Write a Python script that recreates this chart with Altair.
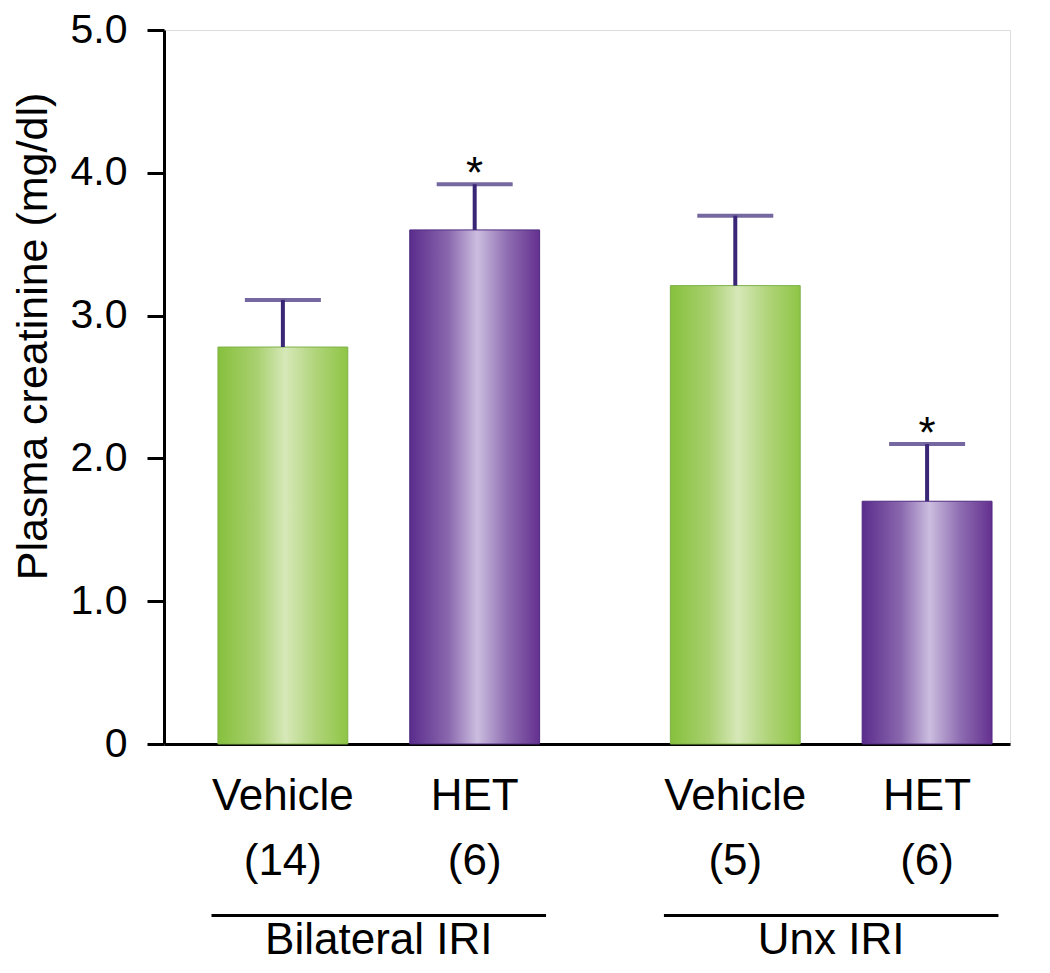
import altair as alt
import pandas as pd

groups = ["Bilateral IRI", "Bilateral IRI", "Unx IRI", "Unx IRI"]
treatments = ["Vehicle", "HET", "Vehicle", "HET"]
n_labels = ["(14)", "(6)", "(5)", "(6)"]
means = [2.78, 3.60, 3.21, 1.70]
upper = [3.11, 3.92, 3.70, 2.10]
significant = [False, True, False, True]
y_ticks = [0, 1, 2, 3, 4, 5]
group_names = ["Bilateral IRI", "Unx IRI"]

df = pd.DataFrame({
    "group": groups,
    "treatment": treatments,
    "n": n_labels,
    "mean": means,
    "upper": upper,
    "sig": significant,
})
gdf = pd.DataFrame({"group": group_names})

FONT = "Liberation Sans"
ERR = "#3a2676"
FS = 44

green = alt.LinearGradient(
    gradient="linear", x1=0, x2=1, y1=0, y2=0,
    stops=[
        alt.GradientStop(color="#86c03c", offset=0.0),
        alt.GradientStop(color="#a9d070", offset=0.3),
        alt.GradientStop(color="#d6e8b8", offset=0.52),
        alt.GradientStop(color="#b0d47a", offset=0.75),
        alt.GradientStop(color="#8ec545", offset=1.0),
    ],
)
purple = alt.LinearGradient(
    gradient="linear", x1=0, x2=1, y1=0, y2=0,
    stops=[
        alt.GradientStop(color="#5a2c8c", offset=0.0),
        alt.GradientStop(color="#8a68ae", offset=0.3),
        alt.GradientStop(color="#cbbddf", offset=0.52),
        alt.GradientStop(color="#8f6eb2", offset=0.75),
        alt.GradientStop(color="#64308f", offset=1.0),
    ],
)

x_enc = alt.X(
    "group:N",
    sort=group_names,
    scale=alt.Scale(paddingInner=0.289, paddingOuter=0.0795, align=0.75),
    axis=alt.Axis(labels=False, ticks=False, title=None, domainWidth=3, domainColor="black"),
)
xo_enc = alt.XOffset(
    "treatment:N",
    sort=["Vehicle", "HET"],
    scale=alt.Scale(paddingInner=0.323, paddingOuter=0),
)
y_scale = alt.Scale(domain=[0, 5], nice=False)
y_enc = alt.Y(
    "mean:Q",
    scale=y_scale,
    axis=alt.Axis(
        values=y_ticks,
        labelExpr="datum.value == 0 ? '0' : format(datum.value, '.1f')",
        title="Plasma creatinine (mg/dl)",
        titleFont=FONT, titleFontSize=43, titleFontWeight="normal", titleColor="black",
        titleX=-118, titleY=306, titleAngle=270, titleBaseline="alphabetic", titleAlign="center",
        labelFont=FONT, labelFontSize=41, labelColor="black", labelPadding=20,
        tickSize=17, tickWidth=3, tickColor="black",
        domainWidth=3, domainColor="black", grid=False,
    ),
)

base = alt.Chart(df)

bars_v = base.transform_filter(alt.datum.treatment == "Vehicle").mark_bar(
    color=green, stroke="#7fb24a", strokeWidth=1
).encode(x=x_enc, xOffset=xo_enc, y=y_enc)
bars_h = base.transform_filter(alt.datum.treatment == "HET").mark_bar(
    color=purple, stroke="#4e2a80", strokeWidth=1
).encode(x=x_enc, xOffset=xo_enc, y=y_enc)

stems = base.mark_rule(color=ERR, strokeWidth=4).encode(
    x=x_enc, xOffset=xo_enc,
    y=alt.Y("mean:Q", scale=y_scale), y2="upper:Q",
)
caps = base.mark_tick(color=ERR, size=76, thickness=4).encode(
    x=x_enc, xOffset=xo_enc, y=alt.Y("upper:Q", scale=y_scale),
)
stars = base.transform_filter(alt.datum.sig == True).mark_text(
    text="*", font=FONT, fontSize=44, color="black", baseline="alphabetic", dy=4
).encode(x=x_enc, xOffset=xo_enc, y=alt.Y("upper:Q", scale=y_scale))

names = base.mark_text(font=FONT, fontSize=FS, color="black", baseline="alphabetic").encode(
    x=x_enc, xOffset=xo_enc, y=alt.value(780), text="treatment:N"
)
ns = base.mark_text(font=FONT, fontSize=FS, color="black", baseline="alphabetic").encode(
    x=x_enc, xOffset=xo_enc, y=alt.value(845), text="n:N"
)

glines = alt.Chart(gdf).mark_bar(color="black", width=alt.RelativeBandSize(1.04)).encode(
    x=x_enc, y=alt.value(884), y2=alt.value(887)
)
glabels = alt.Chart(gdf).mark_text(font=FONT, fontSize=FS, color="black", baseline="alphabetic").encode(
    x=x_enc, y=alt.value(924), text="group:N"
)

chart = alt.layer(bars_v, bars_h, stems, caps, stars, names, ns, glines, glabels).properties(
    width=846, height=714,
    autosize=alt.AutoSizeParams(type="none"),
    padding={"left": 156, "top": 22, "right": 20, "bottom": 221},
).configure_view(stroke=None).configure(background="white")

chart.save("out.html", embed_options={"renderer": "svg", "actions": False})
